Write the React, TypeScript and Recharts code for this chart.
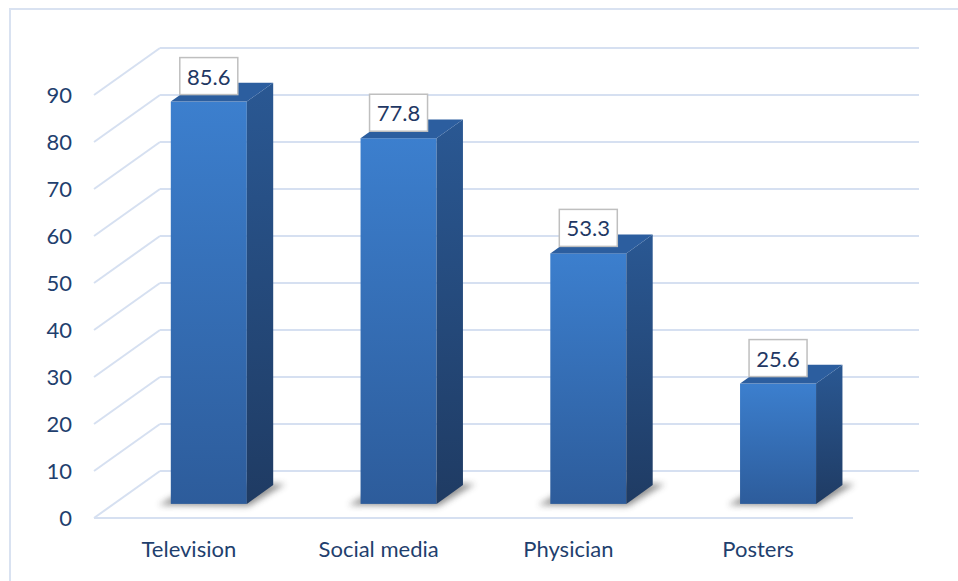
import { BarChart, Bar, XAxis, YAxis, CartesianGrid, LabelList } from "recharts";

const categories = ["Television", "Social media", "Physician", "Posters"];
const shares = [85.6, 77.8, 53.3, 25.6];
const yTicks = [0, 10, 20, 30, 40, 50, 60, 70, 80, 90];

const data = categories.map((name, i) => ({ name, value: shares[i] }));

// depth of the 3d floor / back wall
const DX = 66;
const DY = 47;
// bar sits between 30% and 70% of the depth
const FX = DX * 0.3;
const FY = DY * 0.3;
const SX = DX * 0.4;
const SY = DY * 0.4;

const GRID = "#D6E0F1";
const TEXT = "#1F3F6E";
const FONT = "Lato, 'Open Sans', sans-serif";

function gridLine(p: any) {
  const { x1, y1, x2, y, height, index } = p;
  const isFloor = Math.abs(y1 - (y + height)) < 1;
  return (
    <g key={`g-${index}`} stroke={GRID} strokeWidth={2}>
      <line x1={x1} y1={y1} x2={x1 + DX} y2={y1 - DY} />
      <line x1={x1 + DX} y1={y1 - DY} x2={x2 + DX} y2={y1 - DY} />
      {isFloor && <line x1={x1} y1={y1} x2={x2} y2={y1} />}
    </g>
  );
}

function Bar3D(p: any) {
  const { x, y, width, height, index } = p;
  const xl = x + FX;
  const xr = xl + width;
  const yt = y - FY;
  const yb = y + height - FY;
  const fid = `front-${index}`;
  const sid = `side-${index}`;
  const shid = `shadow-${index}`;
  return (
    <g>
      <defs>
        <linearGradient id={fid} x1="0" y1="0" x2="0" y2="1">
          <stop offset="0%" stopColor="#3C7FCE" />
          <stop offset="100%" stopColor="#2D5C9B" />
        </linearGradient>
        <linearGradient id={sid} x1="0" y1="0" x2="0" y2="1">
          <stop offset="0%" stopColor="#2A5893" />
          <stop offset="100%" stopColor="#1F3B63" />
        </linearGradient>
        <filter id={shid} x="-50%" y="-50%" width="200%" height="200%">
          <feGaussianBlur stdDeviation="3" />
        </filter>
      </defs>
      <polygon
        points={`${xl - 12},${yb + 1} ${xr + 2},${yb + 2} ${xr + SX + 12},${yb - SY - 1} ${xl + SX},${yb - SY - 2}`}
        fill="#3a3a3a"
        opacity={0.55}
        filter={`url(#${shid})`}
      />
      <rect x={xl} y={yt} width={width} height={yb - yt} fill={`url(#${fid})`} />
      <polygon
        points={`${xr},${yt} ${xr + SX},${yt - SY} ${xr + SX},${yb - SY} ${xr},${yb}`}
        fill={`url(#${sid})`}
      />
      <polygon
        points={`${xl},${yt} ${xl + SX},${yt - SY} ${xr + SX},${yt - SY} ${xr},${yt}`}
        fill="#2C5E9F"
      />
    </g>
  );
}

function ValueBox(p: any) {
  const { x, y, width, value } = p;
  const cx = x + FX + width / 2;
  const bottom = y - FY - 7;
  const w = 58;
  const h = 37;
  return (
    <g>
      <rect
        x={cx - w / 2}
        y={bottom - h}
        width={w}
        height={h}
        fill="#ffffff"
        stroke="#BFBFBF"
        strokeWidth={1.5}
      />
      <text
        x={cx}
        y={bottom - h / 2}
        textAnchor="middle"
        dominantBaseline="central"
        fill="#1F3864"
        fontSize={22}
        fontFamily={FONT}
      >
        {value}
      </text>
    </g>
  );
}

export default function App() {
  return (
    <div
      style={{
        position: "fixed",
        left: 0,
        top: 0,
        width: 958,
        height: 581,
        background: "#ffffff",
        overflow: "hidden",
      }}
    >
      <div
        style={{
          position: "absolute",
          left: 9,
          top: 8,
          width: 1000,
          height: 700,
          border: "2px solid #D9E2F1",
        }}
      />
      <div style={{ position: "absolute", left: 0, top: 0 }}>
        <BarChart
          width={958}
          height={581}
          data={data}
          margin={{ top: 95, right: 105, bottom: 23, left: 34 }}
          barSize={76}
        >
          <CartesianGrid vertical={false} horizontal={gridLine} />
          <XAxis
            dataKey="name"
            axisLine={false}
            tickLine={false}
            tickSize={0}
            tickMargin={23}
            height={40}
            interval={0}
            tick={{ fill: TEXT, fontSize: 22, fontFamily: FONT }}
          />
          <YAxis
            domain={[0, 90]}
            ticks={yTicks}
            width={60}
            axisLine={false}
            tickLine={false}
            tickSize={0}
            tickMargin={22}
            tick={{ fill: TEXT, fontSize: 22, fontFamily: FONT }}
          />
          <Bar dataKey="value" shape={Bar3D} isAnimationActive={false}>
            <LabelList dataKey="value" content={ValueBox} />
          </Bar>
        </BarChart>
      </div>
    </div>
  );
}
